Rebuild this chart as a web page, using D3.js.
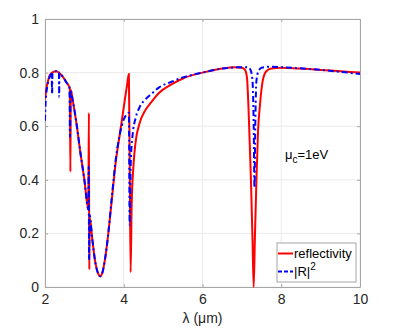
<!DOCTYPE html>
<html><head><meta charset="utf-8">
<script src="https://cdn.jsdelivr.net/npm/d3@7"></script>
<style>body{margin:0;background:#fff}svg{display:block}text{font-family:"Liberation Sans",Arial,sans-serif}</style>
</head><body>
<svg id="c" width="407" height="329"></svg>
<script>
const xTicks = [2, 4, 6, 8, 10];
const yTicks = [0, 0.2, 0.4, 0.6, 0.8, 1];
const yTickLabels = ["0", "0.2", "0.4", "0.6", "0.8", "1"];
const xLabel = "λ (μm)";
const seriesNames = ["reflectivity", "|R|"];

const redLambda = [2.00,2.03,2.07,2.12,2.20,2.28,2.35,2.45,2.55,2.63,2.645,2.655,2.70,2.80,2.90,3.00,3.10,3.115,3.125,3.135,3.20,3.28,3.35,3.40,3.45,3.52,3.60,3.70,3.80,3.90,4.00,4.08,4.13,4.155,4.175,4.20,4.25,4.30,4.40,4.55,4.70,4.90,5.20,5.50,6.00,6.50,6.80,7.00,7.08,7.13,7.18,7.23,7.27,7.30,7.33,7.37,7.41,7.46,7.53,7.62,7.75,8.00,8.50,9.00,9.50,10.0];
const redValues = [0.70,0.735,0.765,0.79,0.802,0.805,0.80,0.785,0.762,0.742,0.43,0.735,0.70,0.61,0.50,0.40,0.29,0.65,0.065,0.26,0.18,0.09,0.05,0.04,0.05,0.10,0.19,0.33,0.47,0.57,0.67,0.75,0.795,0.40,0.055,0.30,0.46,0.54,0.61,0.66,0.69,0.725,0.755,0.778,0.80,0.815,0.82,0.818,0.81,0.78,0.62,0.40,0.18,0.00,0.18,0.40,0.58,0.68,0.77,0.805,0.815,0.818,0.815,0.81,0.805,0.80];

const blueLambda = [2.00,2.02,2.06,2.12,2.17,2.18,2.19,2.28,2.355,2.36,2.365,2.45,2.55,2.62,2.635,2.65,2.70,2.80,2.90,3.00,3.10,3.11,3.12,3.13,3.20,3.28,3.35,3.40,3.45,3.52,3.60,3.70,3.80,3.90,4.00,4.08,4.13,4.15,4.18,4.22,4.30,4.40,4.55,4.70,4.90,5.20,5.50,6.00,6.50,7.00,7.15,7.22,7.27,7.30,7.32,7.34,7.37,7.42,7.50,7.70,8.00,9.00,10.0];
const blueValues = [0.62,0.70,0.75,0.785,0.797,0.72,0.798,0.805,0.80,0.71,0.80,0.785,0.762,0.745,0.56,0.735,0.70,0.61,0.50,0.40,0.29,0.45,0.10,0.27,0.18,0.09,0.05,0.04,0.05,0.10,0.19,0.34,0.48,0.57,0.625,0.645,0.65,0.23,0.47,0.56,0.63,0.67,0.70,0.72,0.745,0.765,0.782,0.80,0.815,0.82,0.82,0.81,0.77,0.60,0.37,0.60,0.77,0.805,0.818,0.822,0.82,0.81,0.795];

const svg = d3.select("#c");
const L = 45, R = 360, T = 19, B = 287;
const x = d3.scaleLinear().domain([2, 10]).range([L, R]);
const y = d3.scaleLinear().domain([0, 1]).range([B, T]);
const font = '"Liberation Sans",Arial,sans-serif';

// grid
const g = svg.append("g");
g.selectAll(".gx").data(xTicks).join("line")
  .attr("x1", d => x(d)).attr("x2", d => x(d)).attr("y1", T).attr("y2", B)
  .attr("stroke", "#ebebeb").attr("stroke-width", 1);
g.selectAll(".gy").data(yTicks).join("line")
  .attr("y1", d => y(d)).attr("y2", d => y(d)).attr("x1", L).attr("x2", R)
  .attr("stroke", "#ebebeb").attr("stroke-width", 1);

// axes
svg.append("g").attr("transform", `translate(0,${B})`)
  .call(d3.axisBottom(x).tickValues(xTicks).tickFormat(d3.format("d")).tickSizeInner(-3).tickSizeOuter(0).tickPadding(7));
svg.append("g").attr("transform", `translate(${L},0)`)
  .call(d3.axisLeft(y).tickValues(yTicks).tickFormat((d, i) => yTickLabels[i]).tickSizeInner(-3).tickSizeOuter(0).tickPadding(6));
svg.append("g").attr("transform", `translate(0,${T})`)
  .call(d3.axisTop(x).tickValues(xTicks).tickFormat("").tickSizeInner(-3).tickSizeOuter(0));
svg.append("g").attr("transform", `translate(${R},0)`)
  .call(d3.axisRight(y).tickValues(yTicks).tickFormat("").tickSizeInner(-3).tickSizeOuter(0));
svg.selectAll(".domain").attr("stroke", "#a6a6a6");
svg.selectAll(".tick line").attr("stroke", "#a6a6a6");
svg.selectAll(".tick text").attr("fill", "#262626").style("font-size", "14px").style("font-family", font);

// lines
const line = d3.line().x(d => x(d[0])).y(d => y(d[1])).curve(d3.curveMonotoneX);
const redData = redLambda.map((l, i) => [l, redValues[i]]);
const blueData = blueLambda.map((l, i) => [l, blueValues[i]]);
svg.append("clipPath").attr("id", "cp").append("rect").attr("x", L).attr("y", T - 2).attr("width", R - L).attr("height", B - T + 4);
svg.append("path").datum(redData).attr("d", line).attr("fill", "none").attr("stroke", "#ff0000").attr("stroke-width", 2).attr("clip-path", "url(#cp)");
svg.append("path").datum(blueData).attr("d", line).attr("fill", "none").attr("stroke", "#0000ff").attr("stroke-width", 2)
  .attr("stroke-dasharray", "6,3,2,3").attr("clip-path", "url(#cp)");

// x label
svg.append("text").attr("x", (L + R) / 2).attr("y", 323).attr("text-anchor", "middle")
  .style("font-size", "14px").attr("fill", "#262626").text(xLabel);

// mu label
const mu = svg.append("text").attr("x", 285).attr("y", 159).style("font-size", "13px").attr("fill", "#000");
mu.append("tspan").text("μ");
mu.append("tspan").attr("dy", 4).style("font-size", "10px").text("c");
mu.append("tspan").attr("dy", -4).text("=1eV");

// legend
const lg = svg.append("g");
lg.append("rect").attr("x", 277).attr("y", 243).attr("width", 79).attr("height", 39)
  .attr("fill", "#fff").attr("stroke", "#a6a6a6").attr("stroke-width", 1);
lg.append("line").attr("x1", 278).attr("x2", 293).attr("y1", 253.5).attr("y2", 253.5).attr("stroke", "#ff0000").attr("stroke-width", 2);
lg.append("line").attr("x1", 278).attr("x2", 293).attr("y1", 271.5).attr("y2", 271.5).attr("stroke", "#0000ff").attr("stroke-width", 2).attr("stroke-dasharray", "4,2");
lg.append("text").attr("x", 294).attr("y", 258).style("font-size", "13px").attr("fill", "#000").text(seriesNames[0]);
const t2 = lg.append("text").attr("x", 294).attr("y", 276).style("font-size", "13px").attr("fill", "#000");
t2.append("tspan").text(seriesNames[1]);
t2.append("tspan").attr("dy", -6).style("font-size", "10px").text("2");
</script>
</body></html>
